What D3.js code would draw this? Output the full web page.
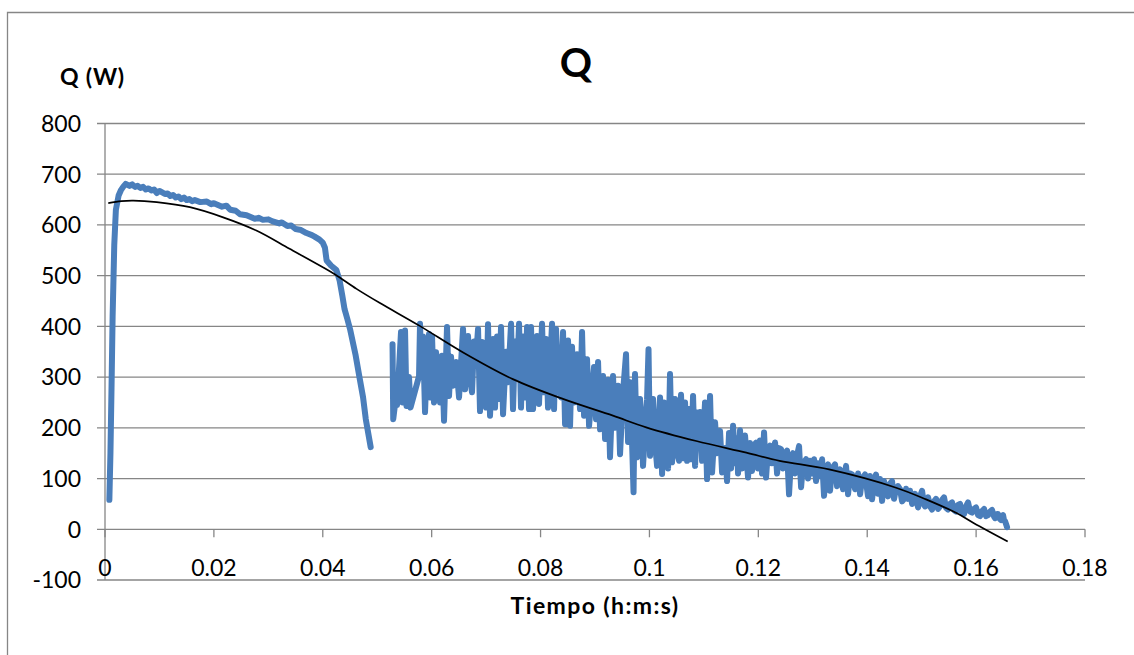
<!DOCTYPE html>
<html>
<head>
<meta charset="utf-8">
<script src="https://cdn.jsdelivr.net/npm/d3@7"></script>
<style>
  body { margin: 0; background: #fff; }
  svg { display: block; }
  text { font-family: Lato, "Open Sans", sans-serif; fill: #000; }
</style>
</head>
<body>
<div id="container"></div>
<script>
/* ---------------- DATA (time in ms, Q in W) ---------------- */
const yTicks = [800, 700, 600, 500, 400, 300, 200, 100, 0, -100];
const xTicks = [0, 20, 40, 60, 80, 100, 120, 140, 160, 180];
const xTickLabels = ["0", "0.02", "0.04", "0.06", "0.08", "0.1", "0.12", "0.14", "0.16", "0.18"];

// first phase: ramp up, plateau, collapse
const rampUp = [
  [0.8,58],[1.0,150],[1.2,280],[1.4,420],[1.7,560],[2.0,630],[2.5,658],[2.9,668],[3.4,676],[3.8,681],
  [4.5,677],[5.0,680],[5.5,675],[6.0,677],[6.5,673],[7.0,675],[7.5,670],[8.0,672],[8.5,668],[9.0,670],
  [9.5,663],[10.0,667],[10.5,664],[11.0,661],[11.5,662],[12.0,657],[12.5,659],[13.0,654],[13.5,656],
  [14.0,651],[14.5,654],[15.0,649],[15.5,651],[16.0,647],[16.5,649],[17.5,645],[18.7,646],[19.5,641],
  [20.0,643],[21.5,636],[22.3,638],[23.0,630],[24.0,628],[24.8,621],[26.0,619],[27.5,612],[28.2,614],
  [29.0,610],[30.0,611],[30.8,607],[32.0,603],[32.5,605],[33.5,598],[34.2,599],[35.0,592],[36.0,590],
  [37.0,584],[38.0,580],[38.5,577],[39.4,571],[40.0,565],[40.4,555],[40.7,530],[41.5,520],[42.5,511],
  [43.1,490],[43.6,460],[44.0,434],[44.5,415],[45.0,395],[46.0,345],[46.8,296],[47.4,260],[47.9,217],[48.8,162]
];

// second phase: oscillating heat flow
const oscillation = [
  [52.81,365],[52.94,217],[53.45,262],[53.64,245],[54.37,389],[54.65,250],[55.11,392],[55.38,243],[55.84,300],[56.12,240],
  [57.68,302],[57.86,405],[58.14,302],[58.41,380],[58.78,231],[59.15,340],[59.52,385],[59.70,260],[60.07,380],[60.43,250],
  [60.80,349],[61.17,300],[61.54,250],[61.90,342],[62.27,214],[62.82,399],[63.19,263],[63.56,340],[63.92,283],[64.47,330],
  [65.03,260],[65.76,395],[66.13,276],[66.68,381],[67.05,300],[67.41,270],[67.78,370],[68.15,340],[68.52,395],[68.88,233],
  [69.25,369],[69.62,300],[69.98,240],[70.35,404],[70.72,224],[71.27,375],[71.64,240],[72.01,380],[72.37,257],[72.74,399],
  [73.11,227],[73.66,350],[74.03,290],[74.58,405],[74.94,237],[75.31,370],[75.68,300],[76.05,405],[76.41,240],[76.78,380],
  [77.15,260],[77.52,399],[77.88,237],[78.25,399],[78.62,237],[79.35,381],[79.72,247],[80.27,405],[80.64,270],[81.01,375],
  [81.37,240],[82.11,405],[82.48,237],[82.84,395],[83.21,290],[83.76,260],[84.13,389],[84.50,207],[85.05,372],[85.42,204],
  [85.78,360],[86.15,250],[86.70,345],[87.25,237],[87.62,389],[87.99,224],[88.54,335],[88.91,204],[89.82,320],[90.19,217],
  [90.56,330],[90.93,197],[91.48,302],[91.85,178],[92.40,295],[92.76,142],[93.31,302],[93.68,200],[94.23,283],[94.60,148],
  [95.15,270],[95.70,345],[96.07,172],[96.44,290],[96.80,174],[97.08,73],[97.35,306],[97.72,142],[98.27,257],[98.64,200],
  [98.82,125],[99.56,255],[99.83,355],[100.11,145],[100.66,257],[101.03,170],[101.40,125],[101.95,260],[102.32,109],[102.68,250],
  [103.05,200],[103.42,120],[103.78,306],[104.15,132],[104.70,257],[105.07,150],[105.44,135],[105.80,265],[106.17,140],[106.54,250],
  [106.91,135],[107.27,237],[107.64,138],[108.01,263],[108.38,125],[108.74,230],[109.11,180],[109.29,231],[109.66,135],[110.21,250],
  [110.58,99],[111.13,263],[111.50,112],[112.05,211],[112.42,150],[112.97,194],[113.34,112],[113.89,160],[114.25,95],[114.62,190],
  [114.99,120],[115.36,204],[115.72,130],[116.09,180],[116.27,110],[116.64,195],[117.01,120],[117.56,185],[118.11,102],[118.48,170],
  [118.84,115],[119.21,165],[119.58,171],[119.95,120],[120.31,175],[120.68,110],[121.05,191],[121.42,102],[121.79,160],[122.15,165],
  [122.52,130],[123.07,171],[123.44,110],[123.81,160],[124.17,158],[124.54,120],[124.91,150],[125.28,155],[125.64,69],[126.01,140],
  [126.38,150],[126.75,110],[127.11,145],[127.48,164],[127.85,83],[128.22,130],[128.77,138],[129.13,100],[129.50,135],[129.87,110],
  [130.24,138],[130.60,95],[130.97,130],[131.34,105],[131.71,138],[132.07,66],[132.44,120],[132.81,128],[133.17,76],[133.54,120],
  [134.09,128],[134.46,85],[134.82,115],[135.01,118],[135.56,79],[136.11,125],[136.48,69],[136.85,110],[137.22,108],[137.77,79],
  [138.32,110],[138.69,69],[139.05,100],[139.60,108],[140.15,65],[140.52,105],[140.89,59],[141.25,95],[141.62,108],[141.99,70],
  [142.36,99],[142.73,56],[143.09,95],[143.46,75],[143.83,65],[144.19,90],[144.56,95],[144.93,60],[145.11,70],[145.66,85],
  [146.03,79],[146.40,55],[146.77,60],[147.13,80],[147.50,60],[147.87,76],[148.24,50],[148.79,70],[149.34,43],[149.71,65],
  [150.07,76],[150.44,48],[150.62,45],[151.18,63],[151.54,45],[151.91,39],[152.28,55],[152.64,60],[153.01,40],[153.38,45],
  [153.74,58],[154.11,63],[154.48,42],[154.85,39],[155.21,50],[155.58,53],[155.95,38],[156.32,35],[156.68,48],[157.05,50],
  [157.42,33],[157.79,30],[158.15,45],[158.52,53],[158.89,35],[159.26,33],[159.62,40],[159.99,43],[160.36,28],[160.73,26],
  [161.09,36],[161.46,40],[161.83,26],[162.20,28],[162.56,35],[162.93,38],[163.30,25],[163.48,22],[163.84,30],[164.03,30],
  [164.40,20],[164.59,18],[164.77,26],[164.95,28],[165.14,17],[165.32,16],[165.51,10],[165.69,4]
];

// polynomial trend line
const trend = [
  [0.6,643],[3.0,647],[5.2,648],[9.5,645],[15.6,635],[21.7,615],[27.8,589],[33.9,553],[40.1,516],
  [42.6,500],[46.2,474],[50.5,446],[57.8,401],[65.7,349],[74.9,296],[84.1,257],[93.3,224],[99.4,201],
  [108.6,174],[117.8,151],[123.9,135],[133.0,118],[145.3,82],[150.8,59],[156.4,32],[159.6,12],[165.8,-24]
];

/* ---------------- LAYOUT ---------------- */
const W = 1134, H = 655;
const grey = "#868686", blue = "#4a7ebb";

const svg = d3.select("#container").append("svg")
  .attr("width", W)
  .attr("height", H);

const x = d3.scaleLinear().domain([0, 180]).range([105, 1085]);
const y = d3.scaleLinear().domain([-100, 800]).range([580, 123.5]);

// outer chart frame (runs off the right and bottom)
svg.append("path")
  .attr("d", `M7.5,${H} V12.5 H${W}`)
  .attr("fill", "none")
  .attr("stroke", grey)
  .attr("stroke-width", 1.3);

/* ---------------- GRID + AXES ---------------- */
svg.append("g").selectAll("line")
  .data(yTicks)
  .enter().append("line")
  .attr("x1", 97).attr("x2", x(180))
  .attr("y1", d => y(d)).attr("y2", d => y(d))
  .attr("stroke", grey).attr("stroke-width", 1.3);

svg.append("line")
  .attr("x1", x(0)).attr("x2", x(0))
  .attr("y1", y(800)).attr("y2", y(-100))
  .attr("stroke", grey).attr("stroke-width", 1.3);

svg.append("g").selectAll("line")
  .data(xTicks)
  .enter().append("line")
  .attr("x1", d => x(d)).attr("x2", d => x(d))
  .attr("y1", y(0)).attr("y2", y(0) + 8)
  .attr("stroke", grey).attr("stroke-width", 1.3);

svg.append("g").selectAll("text")
  .data(yTicks)
  .enter().append("text")
  .attr("x", 81)
  .attr("y", d => y(d))
  .attr("dy", "0.36em")
  .attr("text-anchor", "end")
  .attr("font-size", 23)
  .text(d => d);

svg.append("g").selectAll("text")
  .data(xTicks)
  .enter().append("text")
  .attr("x", d => x(d))
  .attr("y", 576)
  .attr("text-anchor", "middle")
  .attr("font-size", 23)
  .text((d, i) => xTickLabels[i]);

/* ---------------- SERIES ---------------- */
const line = d3.line()
  .x(d => x(d[0]))
  .y(d => y(d[1]));

[rampUp, oscillation].forEach(seg => {
  svg.append("path")
    .datum(seg)
    .attr("d", line)
    .attr("fill", "none")
    .attr("stroke", blue)
    .attr("stroke-width", 6)
    .attr("stroke-linejoin", "round")
    .attr("stroke-linecap", "round");
});

svg.append("path")
  .datum(trend)
  .attr("d", line.curve(d3.curveCatmullRom))
  .attr("fill", "none")
  .attr("stroke", "#000")
  .attr("stroke-width", 1.7);

/* ---------------- TITLES ---------------- */
svg.append("text")
  .attr("x", 576).attr("y", 77)
  .attr("text-anchor", "middle")
  .attr("font-size", 40)
  .attr("font-weight", "bold")
  .text("Q");

svg.append("text")
  .attr("x", 60).attr("y", 85)
  .attr("font-size", 23)
  .attr("font-weight", "bold")
  .attr("letter-spacing", 0.8)
  .text("Q (W)");

svg.append("text")
  .attr("x", 595).attr("y", 614)
  .attr("text-anchor", "middle")
  .attr("font-size", 23)
  .attr("font-weight", "bold")
  .attr("letter-spacing", 1.4)
  .text("Tiempo (h:m:s)");
</script>
</body>
</html>
